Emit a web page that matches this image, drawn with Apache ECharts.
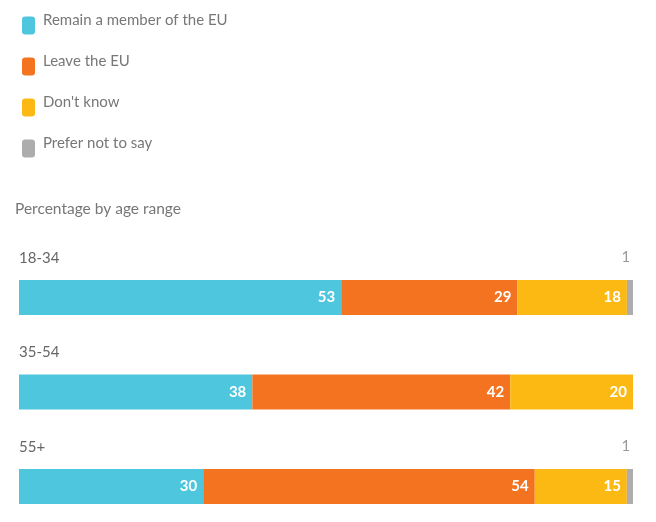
<!DOCTYPE html>
<html>
<head>
<meta charset="utf-8">
<script src="https://cdn.jsdelivr.net/npm/echarts@6/dist/echarts.min.js"></script>
<style>
  html, body { margin: 0; padding: 0; background: #fff; }
  #main { width: 656px; height: 522px; }
</style>
</head>
<body>
<div id="main"></div>
<script>
var categories = ['18-34', '35-54', '55+'];
var remain = [53, 38, 30];
var leave = [29, 42, 54];
var dontKnow = [18, 20, 15];
var preferNot = [1, 0, 1];

var seriesNames = ['Remain a member of the EU', 'Leave the EU', "Don't know", 'Prefer not to say'];
var colors = ['#4ec6de', '#f47321', '#fdb913', '#adadad'];
var rows = [remain, leave, dontKnow, preferNot];

// each bar is stretched to the full width, so scale by its own total
var totals = categories.map(function (c, i) {
  return rows.reduce(function (s, r) { return s + r[i]; }, 0);
});

var chart = echarts.init(document.getElementById('main'));

var series = rows.map(function (r, k) {
  var last = k === rows.length - 1;
  return {
    name: seriesNames[k],
    type: 'bar',
    stack: 'all',
    barWidth: 35,
    clip: false,
    itemStyle: { color: colors[k] },
    label: {
      show: true,
      position: last ? 'top' : 'insideRight',
      distance: last ? 15 : 6,
      offset: last ? [-4, 0] : [0, 0],
      color: last ? '#999' : '#fff',
      fontFamily: 'Lato',
      fontSize: 15,
      fontWeight: last ? 'normal' : 'bold',
      formatter: function (p) { return p.data.raw ? String(p.data.raw) : ''; }
    },
    data: r.map(function (v, i) {
      return { value: v / totals[i] * 100, raw: v };
    })
  };
});

var option = {
  animation: false,
  textStyle: { fontFamily: 'Lato' },
  title: {
    text: 'Percentage by age range',
    left: 10,
    top: 196,
    textStyle: { fontFamily: 'Lato', fontSize: 15.5, fontWeight: 'normal', color: '#777' }
  },
  legend: {
    orient: 'vertical',
    left: 17,
    top: 8,
    itemWidth: 13,
    itemHeight: 18,
    itemGap: 19.5,
    icon: 'roundRect',
    selectedMode: false,
    formatter: function (name) { return '{t|' + name + '}'; },
    textStyle: {
      fontFamily: 'Lato', fontSize: 15, color: '#777',
      rich: {
        t: { fontFamily: 'Lato', fontSize: 15, color: '#777', padding: [0, 0, 10, 3] }
      }
    },
    data: seriesNames
  },
  grid: { left: 19, right: 23, top: 297.5, bottom: 35.5 },
  xAxis: { type: 'value', min: 0, max: 100, show: false },
  yAxis: {
    type: 'category',
    data: categories,
    inverse: true,
    boundaryGap: false,
    axisLine: { show: false },
    axisTick: { show: false },
    splitLine: { show: false },
    axisLabel: {
      inside: true,
      margin: 0,
      verticalAlign: 'bottom',
      padding: [0, 0, 32, 0],
      fontFamily: 'Lato',
      fontSize: 15,
      color: '#666'
    }
  },
  series: series
};

chart.setOption(option);
</script>
</body>
</html>
